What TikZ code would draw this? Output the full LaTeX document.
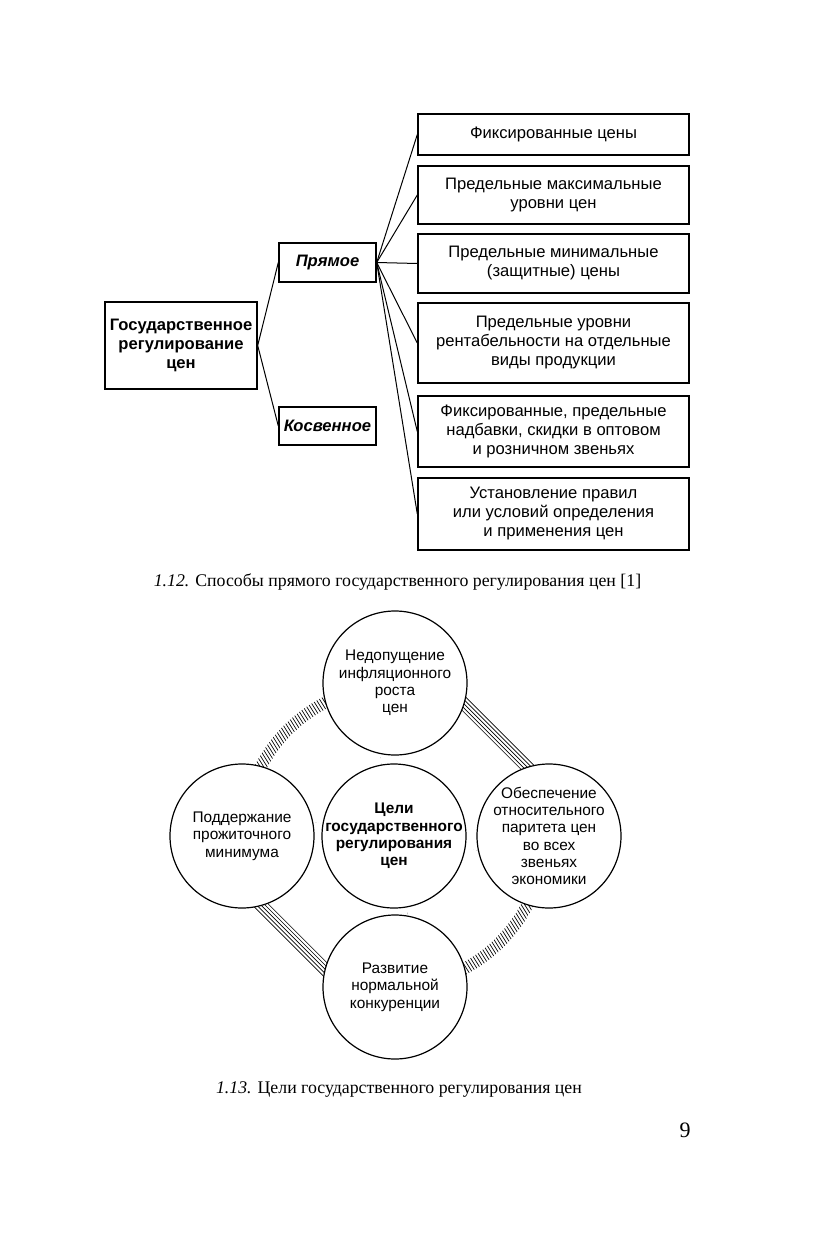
\documentclass[tikz,border=0pt]{standalone}
\usepackage{fontspec}
\setmainfont{Liberation Serif}
\setsansfont{Liberation Sans}
\usepackage{tikz}
\usetikzlibrary{shapes, arrows.meta, positioning, calc}

\begin{document}
\begin{tikzpicture}
  [
    x=0.5pt, y=-0.5pt,
    Way/.style={rectangle, draw=black, line width=0.7pt, minimum width=135.5pt, inner sep=0pt, align=center, font=\sffamily\fontsize{8.3}{9.5}\selectfont},
    Kind/.style={rectangle, draw=black, line width=0.7pt, minimum width=48.5pt, minimum height=19.5pt, inner sep=0pt, font=\sffamily\bfseries\itshape\fontsize{8.3}{9.5}\selectfont},
    Root/.style={rectangle, draw=black, line width=0.7pt, minimum width=76pt, minimum height=43.5pt, inner sep=0pt, align=center, font=\sffamily\bfseries\fontsize{8.3}{9.5}\selectfont},
    Goal/.style={circle, draw=black, fill=white, line width=0.6pt, minimum size=72pt, inner sep=-8pt, align=center, font=\sffamily\fontsize{7.7}{8.65}\selectfont},
    Caption/.style={inner sep=0pt, font=\rmfamily\fontsize{8.9}{10.5}\selectfont},
    Link/.style={draw, line width=0.5pt},
    Hatch/.style={draw, line width=0.35pt}
  ]
  \useasboundingbox (0,0) rectangle (815,1241);

  % Nodes
  \node[Root] (root) at (181, 345.5) {Государственное\\регулирование\\цен};

  \node[Kind] (direct) at (327.5, 262.5) {Прямое};
  \node[Kind, minimum height=19pt] (indirect) at (327.5, 426) {Косвенное};

  \node[Way, minimum height=20.5pt] (w1) at (553.5, 134.5) {Фиксированные цены};
  \node[Way, minimum height=29pt] (w2) at (553.5, 195) {Предельные максимальные\\уровни цен};
  \node[Way, minimum height=29.5pt] (w3) at (553.5, 263.5) {Предельные минимальные\\(защитные) цены};
  \node[Way, minimum height=40pt] (w4) at (553.5, 343) {Предельные уровни\\рентабельности на отдельные\\виды продукции};
  \node[Way, minimum height=35.5pt] (w5) at (553.5, 431.5) {Фиксированные, предельные\\надбавки, скидки в оптовом\\и розничном звеньях};
  \node[Way, minimum height=36pt] (w6) at (553.5, 514) {Установление правил\\или условий определения\\и применения цен};

  \node[Caption] (cap1) at (397.5, 582) {\textit{1.12.} Способы прямого государственного регулирования цен [1]};

  % Lines
  \path [Link] (root.east) -- (direct.west);
  \path [Link] (root.east) -- (indirect.west);
  \foreach \w in {w1,w2,w3,w4,w5,w6}
    \path [Link] (direct.east) -- (\w.west);

  % Hatching
  \coordinate (mid) at (394, 836);
  \begin{scope}
    \clip (mid) -- ($(mid)+(190:220)$) -- ($(mid)+(225:220)$) -- ($(mid)+(260:220)$) -- cycle;
    \clip (mid) circle [radius=156];
    \foreach \x in {100,103.5,...,330}
      \path [Hatch] (\x, 600) -- ++(58:340);
    \fill [white] (mid) circle [radius=144];
  \end{scope}
  \begin{scope}
    \clip (mid) -- ($(mid)+(10:220)$) -- ($(mid)+(45:220)$) -- ($(mid)+(80:220)$) -- cycle;
    \clip (mid) circle [radius=156];
    \foreach \x in {340,343.5,...,550}
      \path [Hatch] (\x, 850) -- ++(58:220);
    \fill [white] (mid) circle [radius=144];
  \end{scope}
  \foreach \d in {137,140,...,149}
  {
    \path [Hatch] ($(mid)+(-45:\d)+(225:125)$) -- ($(mid)+(-45:\d)+(45:125)$);
    \path [Hatch] ($(mid)+(135:\d)+(225:125)$) -- ($(mid)+(135:\d)+(45:125)$);
  }

  \node[Goal] (g1) at (395, 683) {Недопущение\\инфляционного\\роста\\цен};
  \node[Goal] (g2) at (242, 836) {Поддержание\\прожиточного\\минимума};
  \node[Goal, font=\sffamily\bfseries\fontsize{7.7}{8.65}\selectfont] (g0) at (394, 836) {Цели\\государственного\\регулирования\\цен};
  \node[Goal] (g3) at (549, 836) {Обеспечение\\относительного\\паритета цен\\во всех\\звеньях\\экономики};
  \node[Goal] (g4) at (395, 987) {Развитие\\нормальной\\конкуренции};

  \node[Caption] (cap2) at (399, 1090) {\textit{1.13.} Цели государственного регулирования цен};
  \node[Caption, font=\rmfamily\fontsize{11}{13}\selectfont] (page) at (685, 1130) {9};

\end{tikzpicture}
\end{document}
